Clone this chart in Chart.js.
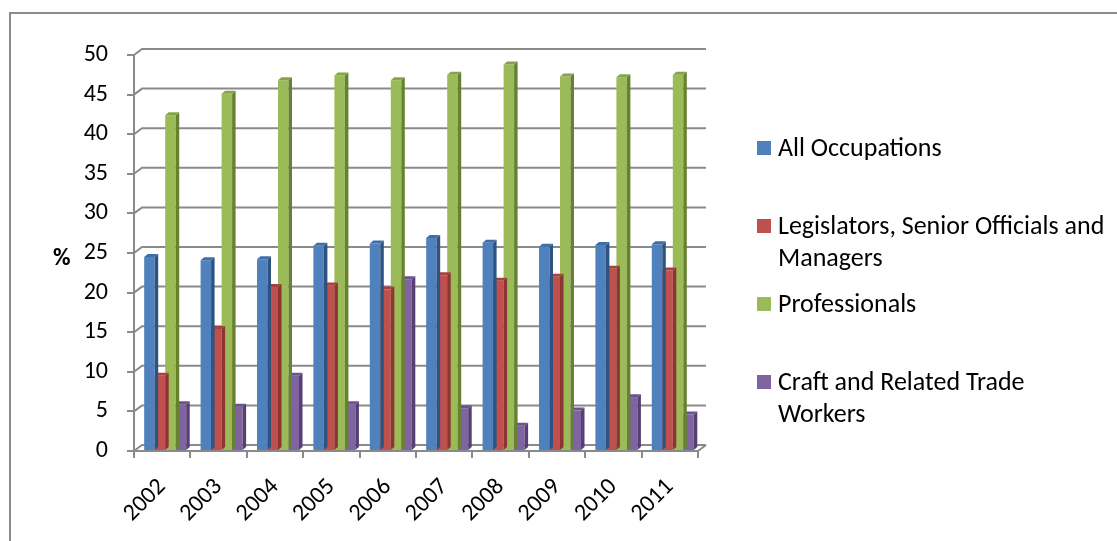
<!DOCTYPE html>
<html>
<head>
<meta charset="utf-8">
<script src="https://cdn.jsdelivr.net/npm/chart.js@4.4.0/dist/chart.umd.min.js"></script>
<style>
  body { margin: 0; background: #fff; font-family: Calibri, Carlito, Lato, sans-serif; }
  #wrap { position: absolute; left: 0; top: 0; width: 1117px; height: 541px; }
  #frame { position: absolute; left: 9px; top: 12px; width: 1120px; height: 540px;
           border-left: 2px solid #8c8c8c; border-top: 2px solid #8c8c8c; }
  #yTitle { position: absolute; left: 53px; top: 243px; font-weight: bold; font-size: 24px; line-height: 28px; }
  .leg-item { position: absolute; left: 757px; }
  .leg-box { position: absolute; left: 0; top: -7px; width: 14px; height: 14px; }
  .leg-text { position: absolute; left: 21px; top: -16px; white-space: pre; font-size: 26px;
              line-height: 31.5px; color: #000; }
</style>
</head>
<body>
<div id="frame"></div>
<div id="wrap"><canvas id="grafico"></canvas></div>
<div id="yTitle">%</div>
<div id="leyenda"></div>
<script>
const years = ['2002', '2003', '2004', '2005', '2006', '2007', '2008', '2009', '2010', '2011'];
const seriesNames = [
  'All Occupations',
  'Legislators, Senior Officials and\nManagers',
  'Professionals',
  'Craft and Related Trade\nWorkers'
];
const allOccupations = [24.5, 24.1, 24.2, 25.9, 26.2, 26.9, 26.3, 25.8, 26.0, 26.1];
const legislators = [9.5, 15.4, 20.7, 20.9, 20.4, 22.2, 21.5, 22.0, 23.0, 22.8];
const professionals = [42.4, 45.1, 46.8, 47.4, 46.8, 47.5, 48.8, 47.3, 47.2, 47.5];
const craftWorkers = [5.9, 5.6, 9.5, 5.9, 21.7, 5.4, 3.2, 5.1, 6.8, 4.6];
const yTicks = { min: 0, max: 50, step: 5 };

const frontColors = ['#4f81bd', '#c0504d', '#9bbb59', '#8064a2'];
const sideColors = ['#2f5380', '#8c3533', '#66812f', '#563f73'];
const topColors = ['#3f6ea6', '#a8403e', '#84a447', '#6b5290'];
const AXIS_GREY = '#8a8a8a';
const FONT = 'Calibri, Carlito, Lato, sans-serif';

// profundidad de la pared del fondo y de cada columna
const WALL_DX = 8, WALL_DY = 6;
const BAR_DX = 3.5, BAR_DY = 3;
const BAR_SHIFT = 3; // columnas a media profundidad

function poly(ctx, pts, fill) {
  ctx.beginPath();
  ctx.moveTo(pts[0][0], pts[0][1]);
  for (let i = 1; i < pts.length; i++) ctx.lineTo(pts[i][0], pts[i][1]);
  ctx.closePath();
  ctx.fillStyle = fill;
  ctx.fill();
}

const pseudo3d = {
  id: 'pseudo3d',
  beforeDatasetsDraw(chart) {
    const { ctx, chartArea: a, scales: { y } } = chart;
    ctx.save();
    ctx.strokeStyle = AXIS_GREY;
    ctx.lineWidth = 2;
    y.ticks.forEach(t => {
      const py = y.getPixelForValue(t.value);
      ctx.beginPath();
      ctx.moveTo(a.left, py);
      ctx.lineTo(a.left + WALL_DX, py - WALL_DY);
      ctx.lineTo(a.right + WALL_DX, py - WALL_DY);
      ctx.stroke();
    });
    // borde derecho del piso
    ctx.beginPath();
    ctx.moveTo(a.right, a.bottom);
    ctx.lineTo(a.right + WALL_DX, a.bottom - WALL_DY);
    ctx.stroke();
    ctx.restore();
    ctx.save();
    ctx.translate(BAR_SHIFT, 0);
  },
  afterDatasetDraw(chart, args) {
    const ctx = chart.ctx;
    const i = args.index;
    ctx.save();
    args.meta.data.forEach(bar => {
      const { x, y, base, width } = bar.getProps(['x', 'y', 'base', 'width'], true);
      const l = x - width / 2, r = x + width / 2;
      poly(ctx, [[r, y], [r + BAR_DX, y - BAR_DY], [r + BAR_DX, base - BAR_DY], [r, base]], sideColors[i]);
      poly(ctx, [[l, y], [r, y], [r + BAR_DX, y - BAR_DY], [l + BAR_DX, y - BAR_DY]], topColors[i]);
    });
    ctx.restore();
  },
  afterDatasetsDraw(chart) {
    chart.ctx.restore();
  }
};

const valores = [allOccupations, legislators, professionals, craftWorkers];

const grafico = new Chart(document.getElementById('grafico').getContext('2d'), {
  type: 'bar',
  data: {
    labels: years,
    datasets: valores.map((data, i) => ({
      label: seriesNames[i].replace('\n', ' '),
      data,
      backgroundColor: frontColors[i],
      borderWidth: 0,
      categoryPercentage: 0.745,
      barPercentage: 1
    }))
  },
  options: {
    responsive: true,
    maintainAspectRatio: false,
    animation: false,
    events: [],
    layout: { padding: { left: 10, top: 55, right: 419, bottom: 0 } },
    plugins: { legend: { display: false }, tooltip: { enabled: false } },
    scales: {
      x: {
        ticks: { color: '#000', font: { family: FONT, size: 24 }, minRotation: 45, maxRotation: 45, padding: 15 },
        grid: { drawOnChartArea: false, offset: true, tickLength: 7, color: AXIS_GREY, lineWidth: 2 },
        border: { color: AXIS_GREY, width: 2 },
        afterFit(s) { s.height = 90; }
      },
      y: {
        min: yTicks.min,
        max: yTicks.max,
        ticks: { stepSize: yTicks.step, color: '#000', font: { family: FONT, size: 24 }, padding: 19 },
        grid: { drawOnChartArea: false, tickLength: 7, color: AXIS_GREY, lineWidth: 2 },
        border: { color: AXIS_GREY, width: 2 },
        afterFit(s) { s.width = 124; }
      }
    }
  },
  plugins: [pseudo3d]
});

// Leyenda
const leyenda = document.getElementById('leyenda');
seriesNames.forEach((name, i) => {
  const item = document.createElement('div');
  item.className = 'leg-item';
  item.style.top = (148 + i * 78) + 'px';
  const box = document.createElement('div');
  box.className = 'leg-box';
  box.style.background = frontColors[i];
  const txt = document.createElement('div');
  txt.className = 'leg-text';
  txt.textContent = name;
  item.appendChild(box);
  item.appendChild(txt);
  leyenda.appendChild(item);
});
</script>
</body>
</html>
